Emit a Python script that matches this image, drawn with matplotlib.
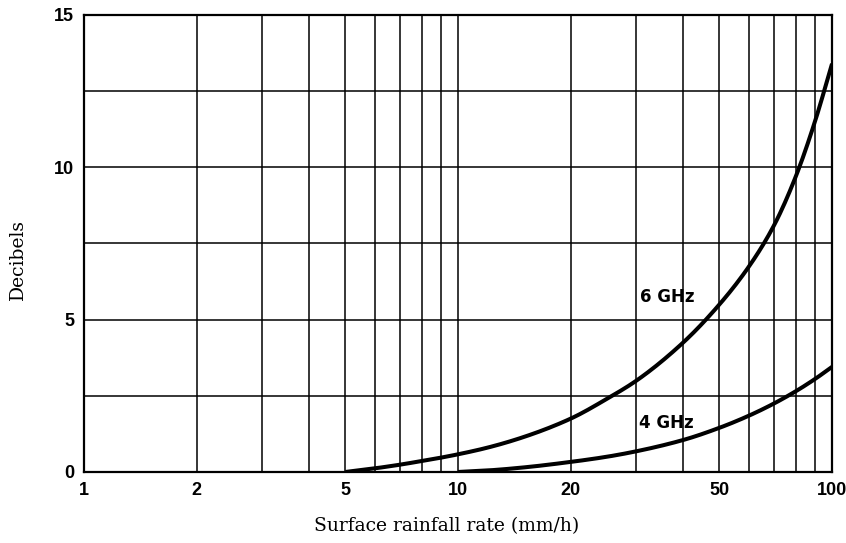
import numpy as np
import matplotlib
matplotlib.use('Agg')
import matplotlib.pyplot as plt

# rain attenuation (dB) vs surface rainfall rate (mm/h)
rate_6ghz = [5, 6, 7, 8, 9, 10, 12, 15, 20, 25, 30, 40, 50, 60, 70, 80, 90, 100]
db_6ghz   = [0.0, 0.12, 0.24, 0.36, 0.47, 0.58, 0.80, 1.15, 1.75, 2.4, 3.0, 4.25, 5.5, 6.75, 8.1, 9.7, 11.5, 13.4]

rate_4ghz = [10, 12, 15, 20, 25, 30, 40, 50, 60, 70, 80, 90, 100]
db_4ghz   = [0.0, 0.05, 0.15, 0.33, 0.5, 0.68, 1.05, 1.45, 1.85, 2.25, 2.65, 3.05, 3.45]

xticks = [1, 2, 5, 10, 20, 50, 100]
yticks = [0, 5, 10, 15]

tick_font = dict(family=['Liberation Sans', 'DejaVu Sans'], weight='bold', size=13)
label_font = dict(family=['DejaVu Serif'], size=13.5)
curve_font = dict(family=['DejaVu Sans'], weight='bold', size=12)


def pchip(x, y, n=300):
    """Monotone cubic through the points, evaluated on a dense log-x grid."""
    lx = np.log10(np.asarray(x, float))
    y = np.asarray(y, float)
    h = np.diff(lx)
    d = np.diff(y) / h
    m = np.zeros_like(y)
    m[0], m[-1] = d[0], d[-1]
    for i in range(1, len(y) - 1):
        if d[i - 1] * d[i] > 0:
            w1 = 2 * h[i] + h[i - 1]
            w2 = h[i] + 2 * h[i - 1]
            m[i] = (w1 + w2) / (w1 / d[i - 1] + w2 / d[i])
    t = np.linspace(lx[0], lx[-1], n)
    k = np.clip(np.searchsorted(lx, t) - 1, 0, len(h) - 1)
    s = (t - lx[k]) / h[k]
    h00 = 2 * s**3 - 3 * s**2 + 1
    h10 = s**3 - 2 * s**2 + s
    h01 = -2 * s**3 + 3 * s**2
    h11 = s**3 - s**2
    yy = h00 * y[k] + h10 * h[k] * m[k] + h01 * y[k + 1] + h11 * h[k] * m[k + 1]
    return 10 ** t, yy


fig = plt.figure(figsize=(8.46, 5.43), dpi=100)
ax = fig.add_axes([0.0993, 0.1308, 0.8842, 0.8416])

ax.set_xscale('log')
ax.set_xlim(1, 100)
ax.set_ylim(0, 15)

# paper-style grid: every integer rate, every 2.5 dB
for v in list(range(2, 10)) + list(range(10, 100, 10)):
    ax.axvline(v, color='black', lw=1.1, zorder=1)
for v in np.arange(2.5, 15, 2.5):
    ax.axhline(v, color='black', lw=1.1, zorder=1)

for s in ax.spines.values():
    s.set_linewidth(1.6)

x6, y6 = pchip(rate_6ghz, db_6ghz)
x4, y4 = pchip(rate_4ghz, db_4ghz)
ax.plot(x6, y6, color='black', lw=2.9, zorder=3, solid_capstyle='butt')
ax.plot(x4, y4, color='black', lw=2.9, zorder=3, solid_capstyle='butt')

ax.text(30.7, 5.74, '6 GHz', fontdict=curve_font, va='center')
ax.text(30.5, 1.61, '4 GHz', fontdict=curve_font, va='center')

ax.set_xticks(xticks)
ax.set_xticklabels([str(v) for v in xticks], fontdict=tick_font)
ax.xaxis.set_minor_locator(matplotlib.ticker.NullLocator())
ax.set_yticks(yticks)
ax.set_yticklabels([str(v) for v in yticks], fontdict=tick_font)
ax.tick_params(axis='x', length=0, pad=7)
ax.tick_params(axis='y', length=0, pad=7)

ax.set_xlabel('Surface rainfall rate (mm/h)', fontdict=label_font)
ax.xaxis.set_label_coords(0.485, -0.098)
ax.set_ylabel('Decibels', fontdict=label_font)
ax.yaxis.set_label_coords(-0.076, 0.466)

fig.savefig('out.png', dpi=100)
